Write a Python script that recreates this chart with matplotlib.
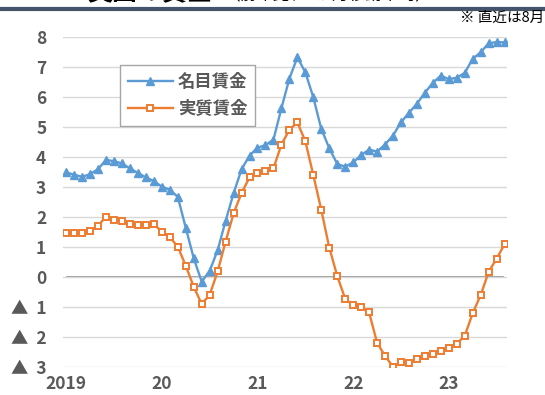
import numpy as np
import matplotlib
matplotlib.use('Agg')
import matplotlib.pyplot as plt
from matplotlib.lines import Line2D

# 前年比（%）, 2019年1月〜2023年8月
nominal = [3.49, 3.41, 3.34, 3.43, 3.60, 3.91, 3.86, 3.79, 3.62, 3.47, 3.32, 3.20,
           3.01, 2.91, 2.67, 1.64, 0.62, -0.16, 0.20, 0.89, 1.87, 2.79, 3.59, 4.05,
           4.31, 4.40, 4.58, 5.63, 6.62, 7.33, 6.83, 6.00, 4.94, 4.30, 3.77, 3.68,
           3.82, 4.07, 4.25, 4.18, 4.42, 4.72, 5.16, 5.48, 5.78, 6.15, 6.48, 6.72,
           6.60, 6.65, 6.81, 7.28, 7.50, 7.80, 7.84, 7.83]
real = [1.45, 1.48, 1.48, 1.52, 1.71, 2.01, 1.91, 1.85, 1.76, 1.74, 1.74, 1.76,
        1.51, 1.32, 1.01, 0.37, -0.33, -0.91, -0.60, 0.18, 1.18, 2.12, 2.80, 3.32,
        3.48, 3.52, 3.62, 4.42, 4.91, 5.16, 4.53, 3.40, 2.24, 0.98, 0.03, -0.73,
        -0.95, -0.99, -1.19, -2.20, -2.64, -3.00, -2.83, -2.88, -2.75, -2.65, -2.56, -2.47,
        -2.36, -2.23, -1.97, -1.21, -0.61, 0.17, 0.61, 1.09]
year_labels = ['2019', '20', '21', '22', '23']
y_ticks = [8, 7, 6, 5, 4, 3, 2, 1, 0, -1, -2, -3]

months = np.arange(len(nominal))
gray = '#595959'
num_font = ['Liberation Sans Narrow', 'Noto Sans CJK JP', 'DejaVu Sans']
jp_font = ['Noto Sans CJK JP', 'DejaVu Sans']

fig = plt.figure(figsize=(5.45, 3.95), dpi=100)
ax = fig.add_axes([63/545, 1 - 366.7/395, 444/545, 329.4/395])

ax.plot(months, nominal, '-^', color='#5B9BD5', lw=1.7, ms=5.5,
        label='名目賃金', zorder=3)
ax.plot(months, real, '-s', color='#ED7D31', lw=1.7, ms=4.8, mfc='white',
        mec='#ED7D31', mew=1.4, label='実質賃金', zorder=3)

ax.set_xlim(-0.4, 55.3)
ax.set_ylim(-3, 8)
ax.set_yticks(y_ticks)
ax.set_yticklabels([str(v) if v >= 0 else '▲  ' + str(-v) for v in y_ticks],
                   family=num_font, fontsize=12.5, fontweight='bold', color=gray)
ax.set_xticks(np.arange(0, len(nominal), 12))
ax.set_xticklabels(year_labels, family=num_font, fontsize=12.5,
                   fontweight='bold', color=gray)
ax.tick_params(length=0)
ax.tick_params(axis='y', pad=12)
ax.tick_params(axis='x', pad=6)
ax.grid(axis='y', color='#D9D9D9', lw=1.0, zorder=0)
ax.axhline(0, xmin=0.01, xmax=0.99, color='#868686', lw=1.2, zorder=1)
for s in ax.spines.values():
    s.set_visible(False)

leg = ax.legend(loc='upper left', bbox_to_anchor=(0.128, 0.916),
                borderaxespad=0,
                prop={'family': jp_font, 'size': 12.5, 'weight': 'bold'},
                fancybox=False, edgecolor='#A6A6A6', framealpha=1,
                handlelength=2.6, handletextpad=0.3, borderpad=0.45,
                labelspacing=0.55)
leg.get_frame().set_linewidth(1.0)
for t in leg.get_texts():
    t.set_color(gray)

fig.text(0.998, 1 - 18/395, '※ 直近は8月', ha='right', va='center',
         family=jp_font, fontsize=10.5, color='black')

# 切れている見出し
fig.text(87/545, 1 - 4/395, '英国の賃金', ha='left', va='bottom',
         family=jp_font, fontsize=18, fontweight='bold', color='black')
fig.text(223/545, 1 - 4/395, '（前年比、3か月移動平均）', ha='left', va='bottom',
         family=jp_font, fontsize=12, color='black')
fig.add_artist(Line2D([0, 1], [1 - 8.5/395, 1 - 8.5/395], color='#44546A',
                      lw=3, transform=fig.transFigure))

fig.savefig('out.png', dpi=100)
